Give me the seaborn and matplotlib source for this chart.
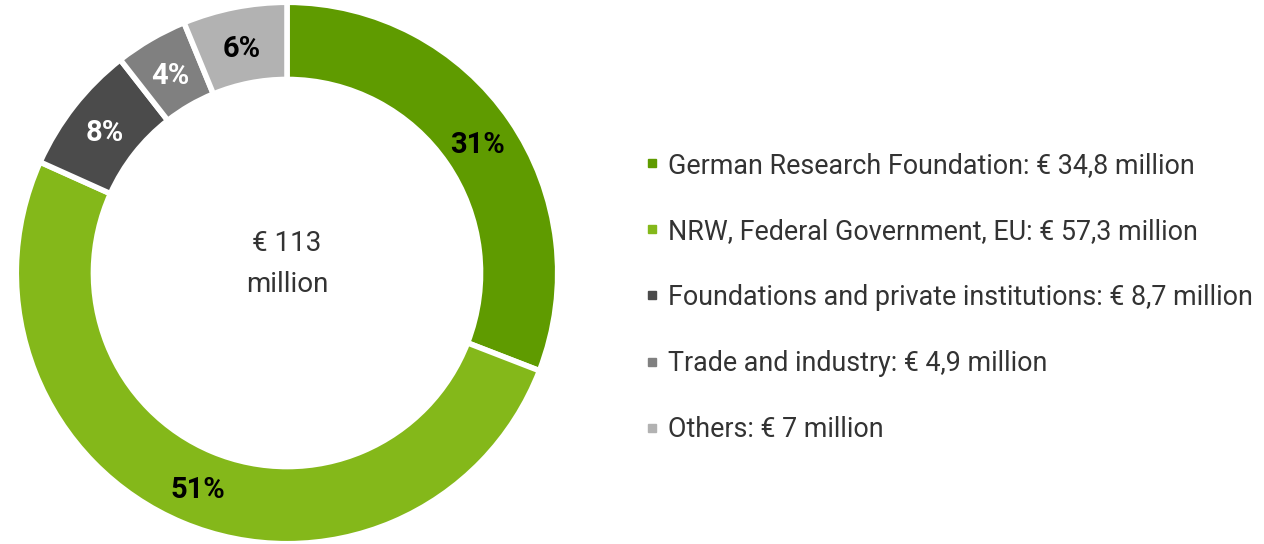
import matplotlib
matplotlib.use("Agg")
import matplotlib.pyplot as plt
from matplotlib.lines import Line2D
from matplotlib.transforms import offset_copy
import seaborn as sns

categories = ["German Research Foundation", "NRW, Federal Government, EU",
              "Foundations and private institutions", "Trade and industry", "Others"]
values = [34.8, 57.3, 8.7, 4.9, 7.0]
value_labels = ["34,8", "57,3", "8,7", "4,9", "7"]
colors = ["#5f9b00", "#84b81a", "#4b4b4b", "#808080", "#b2b2b2"]
label_colors = ["#000000", "#000000", "#ffffff", "#ffffff", "#000000"]
total_label = "€ 113\nmillion"

sns.set_theme(style="white")
plt.rcParams["font.family"] = ["Roboto", "DejaVu Sans"]

fig = plt.figure(figsize=(12.64, 5.44), dpi=100)
ax = fig.add_axes([19 / 1264, 3 / 544, 536 / 1264, 536 / 544])

wedges, texts, autotexts = ax.pie(
    values, colors=colors, startangle=90, counterclock=False,
    autopct=lambda p: f"{p:.0f}%", pctdistance=0.855,
    wedgeprops=dict(width=0.285, edgecolor="white", linewidth=4),
    textprops=dict(fontsize=21, fontweight="bold"),
)
for t, c in zip(autotexts, label_colors):
    t.set_color(c)
    t.set_transform(offset_copy(t.get_transform(), fig=fig, y=-3, units="dots"))
ax.set_xlim(-0.99, 0.99)
ax.set_ylim(-0.99, 0.99)
ax.set_aspect("equal")
ax.text(0, 0.033, total_label, ha="center", va="center", fontsize=20,
        color="#333333", linespacing=1.65)

handles = [Line2D([0], [0], marker="s", linestyle="", markersize=6,
                  markerfacecolor=c, markeredgecolor=c) for c in colors]
labels = [f"{cat}: € {v} million" for cat, v in zip(categories, value_labels)]
fig.legend(handles, labels, loc="upper left", bbox_to_anchor=(634 / 1264, 1 - 141 / 544),
           frameon=False, fontsize=19.4, labelspacing=1.45, handlelength=0.55,
           handletextpad=0.33, borderaxespad=0, labelcolor="#333333")

fig.savefig("out.png", dpi=100, facecolor="white")
